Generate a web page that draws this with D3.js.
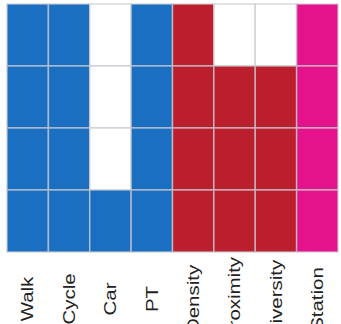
<!DOCTYPE html>
<html>
<head>
<meta charset="utf-8">
<script src="https://cdn.jsdelivr.net/npm/d3@7"></script>
<style>
  html, body { margin: 0; padding: 0; background: #fff; }
  svg { display: block; }
</style>
</head>
<body>
<svg id="chart" width="341" height="324"></svg>
<script>
// Indicator columns and the group each belongs to
const columns = ["Walk", "Cycle", "Car", "PT", "Density", "Proximity", "Diversity", "Station"];
const groups  = ["mode", "mode", "mode", "mode", "built", "built", "built", "station"];
const rows = ["R1", "R2", "R3", "R4"];

// Presence matrix (1 = indicator included), one array per row
const presence = [
  [1, 1, 0, 1, 1, 0, 0, 1],
  [1, 1, 0, 1, 1, 1, 1, 1],
  [1, 1, 0, 1, 1, 1, 1, 1],
  [1, 1, 1, 1, 1, 1, 1, 1]
];

const groupNames = ["mode", "built", "station"];
const groupColors = ["#1a6fc0", "#bb1f2d", "#e5138b"];

const svg = d3.select("#chart");

const x = d3.scaleBand().domain(columns).range([7, 338]).padding(0);
const y = d3.scaleBand().domain(rows).range([4, 252]).padding(0);
const color = d3.scaleOrdinal().domain(groupNames).range(groupColors);

const cells = [];
presence.forEach((row, ri) => {
  row.forEach((v, ci) => {
    cells.push({ row: rows[ri], col: columns[ci], group: groups[ci], value: v });
  });
});

// Heat-map cells
svg.append("g")
  .selectAll("rect")
  .data(cells)
  .join("rect")
  .attr("x", d => x(d.col))
  .attr("y", d => y(d.row))
  .attr("width", x.bandwidth())
  .attr("height", y.bandwidth())
  .attr("fill", d => d.value ? color(d.group) : "#ffffff")
  .attr("stroke", "#c8cad2")
  .attr("stroke-opacity", 0.75)
  .attr("stroke-width", 1.5);

// Rotated column labels
const xAxis = d3.axisBottom(x).tickSize(0).tickPadding(0);
const axisG = svg.append("g")
  .attr("transform", "translate(0,299)")
  .call(xAxis);
axisG.select(".domain").remove();
axisG.selectAll(".tick text")
  .attr("y", 0)
  .attr("dy", "0.36em")
  .attr("text-anchor", "middle")
  .attr("transform", "rotate(-90) scale(1.28,1)")
  .attr("font-family", "'Liberation Sans', Arial, sans-serif")
  .attr("font-size", 16)
  .attr("fill", "#222");
</script>
</body>
</html>
